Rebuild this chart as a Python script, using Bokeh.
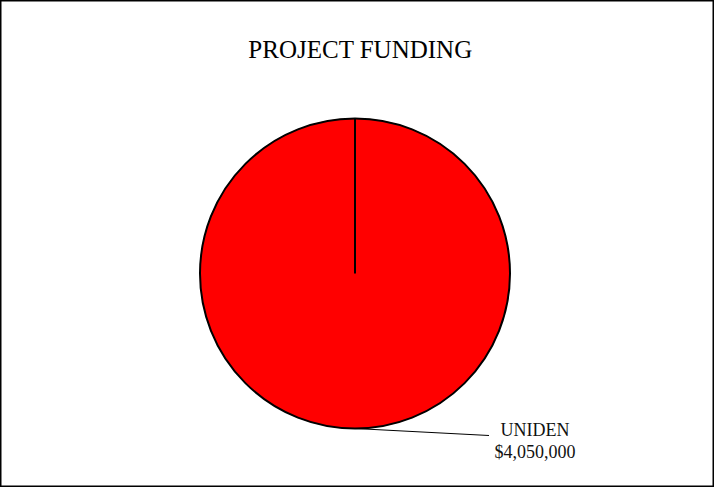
import numpy as np
from bokeh.plotting import figure
from bokeh.models import ColumnDataSource
from bokeh.core.properties import value
from bokeh.embed import file_html
from bokeh.resources import INLINE

# Data
title_text = "PROJECT FUNDING"
categories = ["UNIDEN"]
amounts = [4050000]
colors = ["#ff0000"]

W, H = 714, 487
p = figure(width=W, height=H, x_range=(0, W), y_range=(0, H),
           output_backend="svg", toolbar_location=None, min_border=0)
p.axis.visible = False
p.grid.visible = False
p.outline_line_color = "black"
p.outline_line_width = 2
p.background_fill_color = "white"
p.border_fill_color = "white"

cx, cy, r = 354.5, 214, 155
vals = np.array(amounts, dtype=float)
fr = vals / vals.sum()
ends = np.pi / 2 - 2 * np.pi * np.cumsum(fr)          # clockwise from 12 o'clock
starts = np.concatenate([[np.pi / 2], ends[:-1]])
mids = (starts + ends) / 2

# each slice drawn as two halves so a 100% slice still renders
h_start = np.concatenate([mids, ends])
h_end = np.concatenate([starts, mids])
h_col = colors + colors
src = ColumnDataSource(dict(start=h_start, end=h_end, color=h_col))
p.wedge(x=cx, y=cy, radius=r, start_angle="start", end_angle="end",
        fill_color="color", line_color="color", line_width=0.5, source=src)
# outline of pie and radial edges
p.circle(x=[cx], y=[cy], radius=r, fill_color=None, line_color="black", line_width=2)
p.segment(x0=[cx] * len(starts), y0=[cy] * len(starts),
          x1=list(cx + r * np.cos(starts)), y1=list(cy + r * np.sin(starts)),
          line_color="black", line_width=2)

labels = [f"${a:,.0f}" for a in amounts]
for m, c, lab in zip(mids, categories, labels):
    sx, sy = cx + r * np.cos(m), cy + r * np.sin(m)
    lx, ly = sx + 134, sy - 7
    p.line([sx, lx], [sy, ly], line_color="black", line_width=1)
    p.text(x=[lx + 46], y=[ly + 6], text=[c], text_align="center", text_baseline="alphabetic",
           text_font=value("Liberation Serif"), text_font_size="18px", text_color="#111111")
    p.text(x=[lx + 46], y=[ly - 16], text=[lab], text_align="center", text_baseline="alphabetic",
           text_font=value("Liberation Serif"), text_font_size="18px", text_color="#111111")

p.text(x=[360], y=[438], text=[title_text], text_align="center", text_baseline="alphabetic",
       text_font=value("Liberation Serif"), text_font_size="25px", text_color="black")

open("out.html", "w").write(file_html(p, INLINE))
